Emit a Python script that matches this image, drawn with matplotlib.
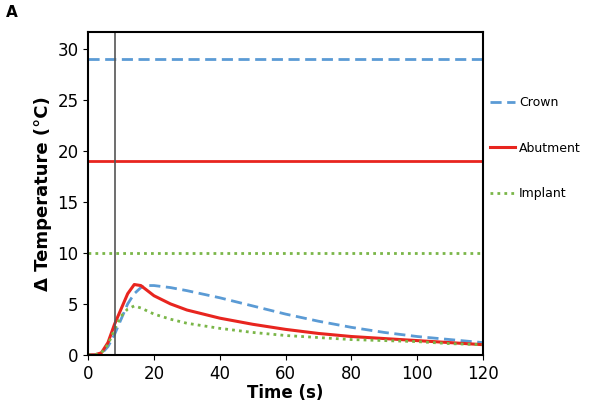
import matplotlib
matplotlib.use("Agg")
import matplotlib.pyplot as plt

time_s = [0, 2, 4, 6, 8, 10, 12, 14, 16, 18, 20, 25, 30, 40, 50, 60, 70, 80, 90, 100, 110, 120]
crown = [0, 0, 0.1, 0.8, 2.0, 3.5, 5.0, 6.0, 6.6, 6.8, 6.8, 6.6, 6.3, 5.6, 4.8, 4.0, 3.3, 2.7, 2.2, 1.8, 1.5, 1.2]
abutment = [0, 0, 0.2, 1.2, 3.0, 4.5, 6.0, 6.9, 6.8, 6.3, 5.8, 5.0, 4.4, 3.6, 3.0, 2.5, 2.1, 1.8, 1.6, 1.4, 1.2, 1.0]
implant = [0, 0, 0.2, 1.0, 2.5, 3.8, 4.5, 4.8, 4.6, 4.3, 4.0, 3.5, 3.1, 2.6, 2.2, 1.9, 1.7, 1.5, 1.4, 1.3, 1.1, 1.0]
thresholds = {"crown": 29, "abutment": 19, "implant": 10}
marker_time = 8

blue, red, green = "#5b9bd5", "#e8251f", "#7ab648"

fig = plt.figure(figsize=(6, 4.17), dpi=100)
ax = fig.add_axes([0.147, 0.149, 0.658, 0.775])

ax.plot(time_s, crown, color=blue, lw=2, ls=(0, (4, 2)), label="Crown")
ax.plot(time_s, abutment, color=red, lw=2.2, label="Abutment")
ax.plot(time_s, implant, color=green, lw=2, ls=(0, (1, 1.5)), label="Implant")
ax.axhline(thresholds["crown"], color=blue, lw=2, ls=(0, (4, 2)))
ax.axhline(thresholds["abutment"], color=red, lw=2)
ax.axhline(thresholds["implant"], color=green, lw=2, ls=(0, (1, 1.5)))
ax.axvline(marker_time, color="#555555", lw=1.2)

ax.set_xlim(0, 120)
ax.set_ylim(0, 31.7)
ax.set_xticks(range(0, 121, 20))
ax.set_yticks(range(0, 31, 5))
ax.tick_params(labelsize=12, direction="out")
ax.set_xlabel("Time (s)", fontsize=12, fontweight="bold", labelpad=1)
ax.set_ylabel("Δ Temperature (°C)", fontsize=13, fontweight="bold")
for s in ax.spines.values():
    s.set_linewidth(1.5)

ax.legend(loc="center left", bbox_to_anchor=(0.99, 0.64), frameon=False,
          fontsize=9, labelspacing=2.6, handlelength=2.0, handletextpad=0.3)
fig.text(0.01, 0.96, "A", fontsize=11, fontweight="bold")

fig.savefig("out.png", dpi=100)
